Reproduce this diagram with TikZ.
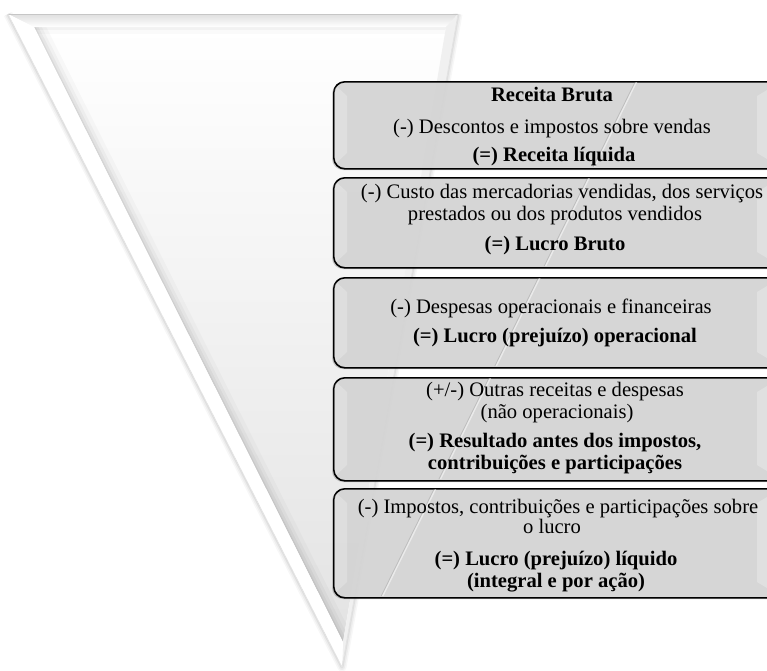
\documentclass[tikz,border=0pt]{standalone}
\usepackage{fontspec}
\setmainfont{Liberation Serif}
\begin{document}
\begin{tikzpicture}[x=1pt,y=-1pt,
  stepbox/.style={draw=black,line width=1.6pt,rounded corners=11pt,fill=gray!31,fill opacity=0.92},
  boxshadow/.style={fill=black,opacity=0.18,rounded corners=11pt},
  txt/.style={anchor=base,inner sep=0pt,font=\fontsize{20.6}{24}\selectfont},
  btxt/.style={txt,font=\fontsize{20.6}{24}\selectfont\bfseries}]
\useasboundingbox (0,0) rectangle (767,670);

% ---- inverted triangle with bevelled rim ----
\coordinate (oTL) at (8,14);
\coordinate (oTR) at (458,14);
\coordinate (oB)  at (342,667);
\coordinate (iTL) at (34,27);
\coordinate (iTR) at (446,27);
\coordinate (iB)  at (343,642);

% soft outer shadow
\foreach \w/\a in {9/0.03,6/0.04,3/0.06}
  \draw[line width=\w pt,line join=round,black,opacity=\a] (oTL) -- (oB) -- (oTR);
\fill[white] (oTL) -- (oTR) -- (oB) -- cycle;
% inner face
\shade[top color=white,bottom color=gray!22] (iTL) -- (iTR) -- (iB) -- cycle;
% shade cast by the left rim onto the inner face
\begin{scope}
  \clip (iTL) -- (iTR) -- (iB) -- cycle;
  \foreach \w/\a in {22/0.025,14/0.03,8/0.04,3/0.05}
    \draw[line width=\w pt,black,opacity=\a] (iTL) -- (iB);
  \foreach \w/\a in {14/0.02,6/0.03}
    \draw[line width=\w pt,black,opacity=\a] (iTL) -- (iTR);
\end{scope}
% rim faces
\shade[top color=gray!25,bottom color=white] (oTL) -- (oTR) -- (iTR) -- (iTL) -- cycle;
\fill[gray!12] (oTR) -- (oB) -- (iB) -- (iTR) -- cycle;
\fill[white] (oTL) -- (iTL) -- (iB) -- (oB) -- cycle;
\draw[gray!45,line width=0.8pt] (oTL) -- (oTR);
\draw[gray!25,line width=0.5pt] (oTL) -- (oB) -- (oTR);

% ---- step boxes ----
\foreach \t/\b in {81/168,177/267,277/367,377/480,488/597}
  \fill[boxshadow] (332,\t+2) rectangle (778,\b+2);
\node[stepbox,inner sep=0pt,minimum width=445pt,minimum height=87pt,anchor=north west] (b1) at (333,81) {};
\node[stepbox,inner sep=0pt,minimum width=445pt,minimum height=90pt,anchor=north west] (b2) at (333,177) {};
\node[stepbox,inner sep=0pt,minimum width=445pt,minimum height=90pt,anchor=north west] (b3) at (333,277) {};
\node[stepbox,inner sep=0pt,minimum width=445pt,minimum height=103pt,anchor=north west] (b4) at (333,377) {};
\node[stepbox,inner sep=0pt,minimum width=445pt,minimum height=109pt,anchor=north west] (b5) at (333,488) {};

% bevel strips at the box ends and the reflected rim line
\begin{scope}
  \clip[rounded corners=11pt] (334,82) rectangle (777,167) (334,178) rectangle (777,266)
        (334,278) rectangle (777,366) (334,378) rectangle (777,479) (334,489) rectangle (777,596);
  \foreach \t/\b in {81/168,177/267,277/367,377/480,488/597} {
    \fill[white,opacity=0.22] (334,\t+3) -- (347,\t+15) -- (347,\b-15) -- (334,\b-3) -- cycle;
    \fill[white,opacity=0.25] (777,\t+3) -- (757,\t+15) -- (757,\b-15) -- (777,\b-3) -- cycle;
  }
  \draw[white,line width=1.4pt,opacity=0.5] (637,81) -- (361,640);
  \draw[gray,line width=0.7pt,opacity=0.3] (635.5,81) -- (359.5,640);
\end{scope}

% ---- texts ----
\node[btxt] (t1a) at (552,101) {Receita Bruta};
\node[txt]  (t1b) at (552,133) {(-) Descontos e impostos sobre vendas};
\node[btxt] (t1c) at (554,161) {(=) Receita líquida};

\node[txt]  (t2a) at (562,198) {(-) Custo das mercadorias vendidas, dos serviços};
\node[txt]  (t2b) at (555,220) {prestados ou dos produtos vendidos};
\node[btxt] (t2c) at (555,250) {(=) Lucro Bruto};

\node[txt]  (t3a) at (551,313) {(-) Despesas operacionais e financeiras};
\node[btxt] (t3b) at (555,342) {(=) Lucro (prejuízo) operacional};

\node[txt]  (t4a) at (555,396) {(+/-) Outras receitas e despesas};
\node[txt]  (t4b) at (557,418) {(não operacionais)};
\node[btxt] (t4c) at (555,447) {(=) Resultado antes dos impostos,};
\node[btxt] (t4d) at (555,469) {contribuições e participações};

\node[txt]  (t5a) at (558,513) {(-) Impostos, contribuições e participações sobre};
\node[txt]  (t5b) at (552,533) {o lucro};
\node[btxt] (t5c) at (556,565) {(=) Lucro (prejuízo) líquido};
\node[btxt] (t5d) at (556,587) {(integral e por ação)};
\end{tikzpicture}
\end{document}
